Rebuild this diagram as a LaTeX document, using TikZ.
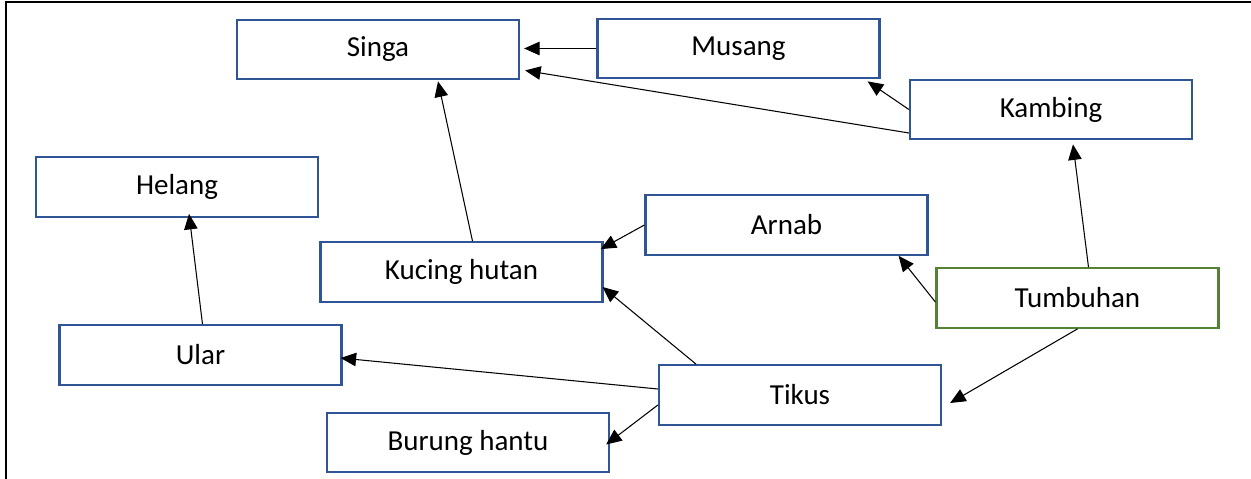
\documentclass[tikz,border=0pt]{standalone}
\usepackage{fontspec}
\setmainfont{Carlito}
\usetikzlibrary{arrows.meta}
\definecolor{boxblue}{HTML}{2F5597}
\definecolor{plantgreen}{HTML}{548235}

\begin{document}
\begin{tikzpicture}[x=0.02cm,y=-0.02cm,
  box/.style={draw=boxblue,line width=1.3pt,minimum width=5.64cm,minimum height=1.19cm,inner sep=0pt,font=\fontsize{16.5}{20}\selectfont},
  arr/.style={-{Triangle[length=0.31cm,width=0.27cm]},line width=0.6pt}]
\useasboundingbox (0,0) rectangle (1251,479);
\draw[line width=1.7pt] (6,479)--(6,2)--(1251,2);

\node[box] (singa) at (378,49.5) {Singa};
\node[box] (musang) at (738.5,48.5) {Musang};
\node[box] (kambing) at (1051,109.5) {Kambing};
\node[box] (helang) at (177,187) {Helang};
\node[box] (arnab) at (786.5,225) {Arnab};
\node[box] (kucing) at (461.5,272) {Kucing hutan};
\node[box,draw=plantgreen] (tumbuhan) at (1077.5,298) {Tumbuhan};
\node[box] (ular) at (200.5,355) {Ular};
\node[box] (tikus) at (800,395) {Tikus};
\node[box] (burung) at (468,442.5) {Burung hantu};

% makan dimakan
\draw[arr] (musang.west)--([shift={(4,-1)}]singa.east);
\draw[arr] ([shift={(0,23.5)}]kambing.west)--([shift={(5,21)}]singa.east);
\draw[arr] (kambing.west)--([shift={(-13,2)}]musang.south east);
\draw[arr] ([shift={(11,0)}]tumbuhan.north)--([shift={(22,4)}]kambing.south);
\draw[arr] ([shift={(0,4)}]tumbuhan.west)--([shift={(-30,0)}]arnab.south east);
\draw[arr] (tumbuhan.south)--([shift={(8,8)}]tikus.east);
\draw[arr] (arnab.west)--([shift={(-3,8)}]kucing.north east);
\draw[arr] ([shift={(-104,0)}]tikus.north)--([shift={(-1,15)}]kucing.east);
\draw[arr] ([shift={(11,0)}]kucing.north)--([shift={(60,1)}]singa.south);
\draw[arr] ([shift={(0,-6)}]tikus.west)--([shift={(-2,3)}]ular.east);
\draw[arr] ([shift={(0,10)}]tikus.west)--([shift={(-4,2)}]burung.east);
\draw[arr] ([shift={(2,0)}]ular.north)--([shift={(12,-4)}]helang.south);
\end{tikzpicture}
\end{document}
